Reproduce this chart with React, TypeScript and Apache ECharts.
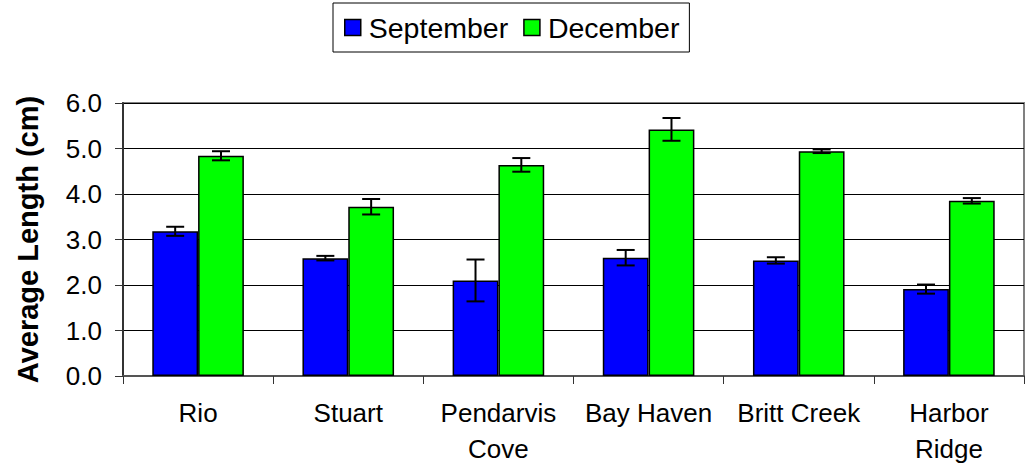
import React, { useEffect, useRef } from "react";
import * as echarts from "echarts";

const categories = ["Rio", "Stuart", "Pendarvis\nCove", "Bay Haven", "Britt Creek", "Harbor\nRidge"];
const septValues = [3.18, 2.59, 2.1, 2.6, 2.54, 1.91];
const septErr = [0.1, 0.05, 0.46, 0.17, 0.07, 0.1];
const decValues = [4.84, 3.72, 4.64, 5.42, 4.94, 3.85];
const decErr = [0.1, 0.17, 0.15, 0.25, 0.04, 0.06];
const seriesNames = ["September", "December"];
const yTicks = { min: 0, max: 6, interval: 1 };

const FONT = "'Liberation Sans', Arial, sans-serif";
const CAT_GAP = 0.39;

function errSeries(values: number[], errs: number[], side: number) {
  return {
    type: "custom",
    silent: true,
    z: 10,
    data: values.map((v, i) => [i, v, errs[i]]),
    renderItem: (params: any, api: any) => {
      const i = api.value(0);
      const v = api.value(1);
      const e = api.value(2);
      const band = api.size([1, 0])[0];
      const bw = (band * (1 - CAT_GAP)) / 2;
      const c = api.coord([i, v]);
      const x = c[0] + side * bw / 2;
      const yTop = api.coord([i, v + e])[1];
      const yBot = api.coord([i, v - e])[1];
      const hw = 9;
      const style = { stroke: "#000", lineWidth: 2 };
      return {
        type: "group",
        children: [
          { type: "line", shape: { x1: x, y1: yTop, x2: x, y2: yBot }, style },
          { type: "line", shape: { x1: x - hw, y1: yTop, x2: x + hw, y2: yTop }, style },
          { type: "line", shape: { x1: x - hw, y1: yBot, x2: x + hw, y2: yBot }, style },
        ],
      };
    },
  };
}

export default function App() {
  const ref = useRef<HTMLDivElement>(null);
  useEffect(() => {
    if (!ref.current) return;
    const chart = echarts.init(ref.current, null, { renderer: "svg" });
    chart.setOption({
      animation: false,
      textStyle: { fontFamily: FONT },
      legend: {
        data: seriesNames,
        left: 333,
        top: 3,
        padding: [10, 10, 10, 11],
        borderColor: "#000",
        borderWidth: 1,
        itemWidth: 16,
        itemHeight: 16,
        itemGap: 15,
        icon: "rect",
        textStyle: { fontSize: 28.5, color: "#000", fontFamily: FONT, padding: [0, 0, 0, 3] },
        itemStyle: { borderColor: "#000", borderWidth: 1.5 },
      },
      grid: {
        left: 123,
        right: 4,
        top: 103,
        bottom: 94,
        show: true,
        borderColor: "#808080",
        borderWidth: 2,
      },
      xAxis: {
        type: "category",
        data: categories,
        axisLine: { lineStyle: { color: "#555", width: 2 } },
        axisTick: { show: true, alignWithLabel: false, length: 8, lineStyle: { color: "#333", width: 1 } },
        axisLabel: {
          fontSize: 26,
          color: "#000",
          lineHeight: 36,
          margin: 19,
          interval: 0,
          fontFamily: FONT,
        },
        splitLine: { show: false },
      },
      yAxis: {
        type: "value",
        min: yTicks.min,
        max: yTicks.max,
        interval: yTicks.interval,
        name: "Average Length (cm)",
        nameLocation: "middle",
        nameGap: 81,
        nameTextStyle: { fontSize: 29, fontWeight: "bold", color: "#000", fontFamily: FONT },
        axisLine: { show: true, lineStyle: { color: "#333", width: 2 } },
        axisTick: { show: true, length: 8, lineStyle: { color: "#333" } },
        axisLabel: {
          fontSize: 26,
          color: "#000",
          margin: 21,
          formatter: (v: number) => v.toFixed(1),
          fontFamily: FONT,
        },
        splitLine: { show: true, lineStyle: { color: "#000", width: 1 } },
      },
      series: [
        {
          name: seriesNames[0],
          type: "bar",
          data: septValues,
          barGap: "0%",
          barCategoryGap: CAT_GAP * 100 + "%",
          itemStyle: { color: "#0000FF", borderColor: "#000", borderWidth: 1.5 },
        },
        {
          name: seriesNames[1],
          type: "bar",
          data: decValues,
          barGap: "0%",
          barCategoryGap: CAT_GAP * 100 + "%",
          itemStyle: { color: "#00FF00", borderColor: "#000", borderWidth: 1.5 },
        },
        errSeries(septValues, septErr, -1),
        errSeries(decValues, decErr, 1),
      ],
    });
    return () => chart.dispose();
  }, []);
  return (
    <div
      ref={ref}
      style={{ position: "absolute", left: 0, top: 0, width: 1028, height: 470, background: "#fff" }}
    />
  );
}
